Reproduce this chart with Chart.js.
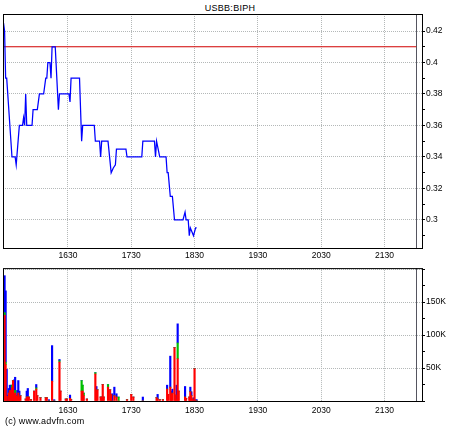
<!DOCTYPE html>
<html>
<head>
<meta charset="utf-8">
<script src="https://cdn.jsdelivr.net/npm/chart.js@4.4.1/dist/chart.umd.min.js"></script>
<style>
  body { margin: 0; background: #fff; }
  #wrap { position: relative; width: 460px; height: 430px; font-family: "Liberation Sans", Arial, sans-serif; color: #000; }
  #titulo { position: absolute; top: 3px; left: 0; width: 460px; text-align: center; font-size: 9px; letter-spacing: 0.3px; }
  #copy { position: absolute; left: 5px; top: 416px; font-size: 9px; letter-spacing: 0.2px; }
  canvas { position: absolute; left: 0; }
</style>
</head>
<body>
<div id="wrap">
  <div id="titulo">USBB:BIPH</div>
  <canvas id="preco" width="460" height="262" style="top:0"></canvas>
  <canvas id="volume" width="460" height="168" style="top:262px"></canvas>
  <div id="copy">(c) www.advfn.com</div>
</div>
<script>
// eixo x em minutos desde meia-noite (930 = 15:30)
const xMin = 928.5, xMax = 1325.5;
const sessionEnd = 1320;   // linha vertical escura (22:00)
const prevClose = 0.41;    // linha vermelha horizontal

const priceTimes = [929, 930, 931, 932, 937, 940, 941, 944, 947, 948,
  949, 950, 951, 956, 957, 961, 962, 963, 967, 969,
  970, 971, 973, 974, 975, 978, 981, 982, 991, 992,
  993, 1001, 1003, 1004, 1015, 1016, 1020, 1021, 1022, 1028,
  1031, 1033, 1035, 1036, 1045, 1046, 1060, 1061, 1072, 1073,
  1074, 1077, 1083, 1084, 1085, 1087, 1089, 1091, 1099, 1101,
  1102, 1104, 1105, 1106, 1109, 1111, 1112];
const priceValues = [0.425, 0.42, 0.39, 0.39, 0.34, 0.34, 0.335, 0.36, 0.36, 0.365,
  0.36, 0.38, 0.36, 0.36, 0.37, 0.37, 0.375, 0.38, 0.38, 0.39,
  0.39, 0.40, 0.40, 0.39, 0.41, 0.41, 0.37, 0.38, 0.38, 0.375,
  0.39, 0.39, 0.35, 0.36, 0.36, 0.35, 0.35, 0.34, 0.35, 0.35,
  0.33, 0.333, 0.335, 0.345, 0.345, 0.34, 0.34, 0.35, 0.35, 0.34,
  0.35, 0.34, 0.34, 0.33, 0.33, 0.315, 0.315, 0.30, 0.30, 0.305,
  0.30, 0.30, 0.29, 0.295, 0.29, 0.295, 0.295];

const volTimes = [930, 931, 932, 933, 934, 935, 936, 937, 938, 939,
  940, 941, 942, 943, 944, 945, 950, 951, 952, 953,
  955, 958, 960, 961, 964, 969, 970, 972, 975, 977,
  982, 983, 988, 989, 992, 993, 1003, 1004, 1005, 1008,
  1016, 1017, 1018, 1021, 1022, 1023, 1024, 1028, 1030, 1031,
  1032, 1034, 1036, 1038, 1046, 1050, 1052, 1061, 1074, 1075,
  1077, 1080, 1084, 1085, 1087, 1088, 1089, 1091, 1092, 1093,
  1094, 1095, 1101, 1102, 1105, 1106, 1107, 1108, 1109, 1110,
  1111, 1112];
const volRed = [130000, 55000, 7000, 0, 12000, 16000, 10000, 20000, 31000, 10000,
  12000, 8000, 6000, 12000, 5000, 8000, 3000, 6000, 6000, 6000,
  2000, 15000, 18000, 8000, 5000, 5000, 5000, 0, 30000, 0,
  59000, 15000, 3000, 3000, 4000, 2000, 15000, 15000, 8000, 3000,
  41000, 16000, 17000, 6000, 6000, 25000, 6000, 21000, 17000, 10000,
  0, 8000, 6000, 0, 2000, 10000, 6000, 0, 5000, 3000,
  2000, 2000, 18000, 10000, 21000, 10000, 12000, 81000, 9000, 2000,
  64000, 15000, 6000, 4000, 6000, 14000, 8000, 3000, 0, 49000,
  0, 0];
const volGreen = [4000, 4000, 0, 0, 0, 0, 4000, 4000, 0, 0,
  4000, 0, 0, 0, 0, 0, 0, 0, 0, 0,
  0, 0, 2000, 0, 0, 0, 0, 0, 0, 0,
  2000, 0, 0, 0, 0, 0, 16000, 9000, 4000, 0,
  2000, 0, 0, 0, 0, 0, 0, 4000, 0, 0,
  0, 0, 0, 6000, 0, 0, 0, 0, 0, 0,
  0, 0, 0, 0, 0, 0, 0, 0, 0, 0,
  24000, 0, 0, 0, 0, 0, 0, 0, 0, 0,
  0, 0];
const volBlue = [56000, 108000, 41000, 9000, 7000, 8000, 10000, 0, 0, 22000,
  20000, 0, 10000, 19000, 10000, 0, 0, 9000, 13000, 0,
  0, 0, 5000, 0, 0, 0, 0, 2000, 54000, 2000,
  2000, 0, 0, 0, 5000, 0, 0, 0, 0, 0,
  0, 6000, 0, 0, 0, 0, 0, 0, 0, 0,
  11000, 13000, 5000, 0, 0, 0, 0, 6000, 0, 7000,
  0, 0, 6000, 0, 47000, 5000, 6000, 0, 0, 22000,
  29000, 0, 16000, 0, 0, 7000, 6000, 0, 5000, 0,
  2000, 2000];

const timeTicks = [990, 1050, 1110, 1170, 1230, 1290];
const priceTicks = [0.29, 0.30, 0.31, 0.32, 0.33, 0.34, 0.35, 0.36, 0.37, 0.38, 0.39, 0.40, 0.41, 0.42];
const priceTickLabels = ['', '0.3', '', '0.32', '', '0.34', '', '0.36', '', '0.38', '', '0.4', '', '0.42'];
const volTicks = [0, 25000, 50000, 75000, 100000, 125000, 150000, 175000, 200000];
const volTickLabels = ['', '', '50K', '', '100K', '', '150K', '', ''];

const fonte = { family: 'Liberation Sans', size: 8.5 };
const corGrade = '#b4b8b8';
const nada = 'rgba(0,0,0,0)';

function hhmm(v) {
  return String(Math.floor(v / 60) * 100 + (v % 60));
}

// moldura preta + linha de fim de sessão
const moldura = {
  id: 'moldura',
  beforeDatasetsDraw(chart) {
    const { ctx, chartArea: a, scales } = chart;
    const xs = Math.round(scales.x.getPixelForValue(sessionEnd)) + 0.5;
    ctx.save();
    ctx.strokeStyle = '#555560';
    ctx.lineWidth = 1;
    ctx.beginPath();
    ctx.moveTo(xs, a.top);
    ctx.lineTo(xs, a.bottom);
    ctx.stroke();
    ctx.restore();
  },
  afterDatasetsDraw(chart) {
    const { ctx, chartArea: a } = chart;
    ctx.save();
    ctx.strokeStyle = '#000';
    ctx.lineWidth = 1;
    ctx.strokeRect(a.left + 0.5, a.top + 0.5, a.right - a.left, a.bottom - a.top);
    ctx.restore();
  }
};

function eixoX(altura, pad) {
  return {
    type: 'linear', min: xMin, max: xMax, offset: false,
    afterBuildTicks: s => { s.ticks = timeTicks.map(v => ({ value: v })); },
    afterFit: s => { s.height = altura; },
    ticks: { autoSkip: false, maxRotation: 0, padding: pad, color: '#000', font: fonte, callback: v => hhmm(v) },
    grid: { color: corGrade, drawTicks: false, offset: false },
    border: { display: false, dash: [1, 1] }
  };
}

new Chart(document.getElementById('preco'), {
  type: 'line',
  data: {
    datasets: [
      {
        data: priceTimes.map((t, i) => ({ x: t, y: priceValues[i] })),
        borderColor: '#0000ff', borderWidth: 1.25, pointRadius: 0, tension: 0
      },
      {
        data: [{ x: xMin, y: prevClose }, { x: sessionEnd, y: prevClose }],
        borderColor: '#d00000', borderWidth: 1, pointRadius: 0
      }
    ]
  },
  options: {
    responsive: false, animation: false, devicePixelRatio: 1,
    layout: { padding: { left: 3, top: 14, right: 0, bottom: 0 } },
    plugins: { legend: { display: false }, tooltip: { enabled: false } },
    scales: {
      x: eixoX(14, 3),
      y: {
        position: 'right', min: 0.2822, max: 0.4308,
        afterBuildTicks: s => { s.ticks = priceTicks.map(v => ({ value: v })); },
        afterFit: s => { s.width = 38; },
        ticks: { autoSkip: false, padding: 1, color: '#000', font: fonte, callback: (v, i) => priceTickLabels[i] },
        grid: { color: c => priceTickLabels[c.index] ? corGrade : nada, tickColor: '#000', tickLength: 3 },
        border: { display: false, dash: [1, 1] }
      }
    }
  },
  plugins: [moldura]
});

new Chart(document.getElementById('volume'), {
  type: 'bar',
  data: {
    datasets: [
      { data: volTimes.map((t, i) => ({ x: t, y: volRed[i] })), backgroundColor: '#ff0000' },
      { data: volTimes.map((t, i) => ({ x: t, y: volGreen[i] })), backgroundColor: '#00c000' },
      { data: volTimes.map((t, i) => ({ x: t, y: volBlue[i] })), backgroundColor: '#0000ff' }
    ]
  },
  options: {
    responsive: false, animation: false, devicePixelRatio: 1,
    layout: { padding: { left: 3, top: 4, right: 0, bottom: 0 } },
    plugins: { legend: { display: false }, tooltip: { enabled: false } },
    datasets: { bar: { barThickness: 1.5, borderWidth: 0 } },
    scales: {
      x: Object.assign(eixoX(29, 5), { stacked: true }),
      y: {
        stacked: true, position: 'right', min: 0, max: 201500,
        afterBuildTicks: s => { s.ticks = volTicks.map(v => ({ value: v })); },
        afterFit: s => { s.width = 38; },
        ticks: { autoSkip: false, padding: 1, color: '#000', font: fonte, callback: (v, i) => volTickLabels[i] },
        grid: { color: c => (c.index > 0 && c.index % 2 === 0) ? corGrade : nada, tickColor: '#000', tickLength: 3 },
        border: { display: false, dash: [1, 1] }
      }
    }
  },
  plugins: [moldura]
});
</script>
</body>
</html>
